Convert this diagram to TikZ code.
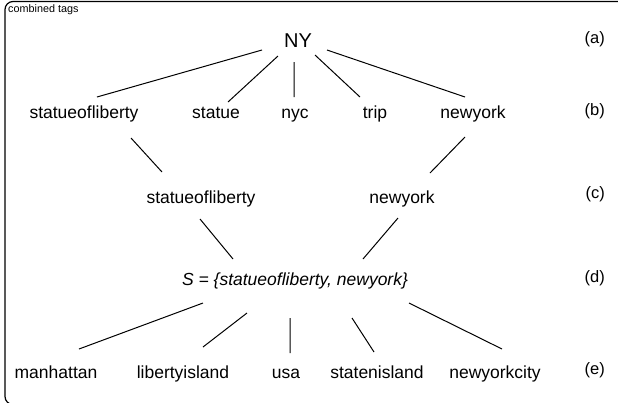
\documentclass[tikz,border=0pt]{standalone}
\usepackage{fontspec}
\setmainfont{Liberation Sans}

\begin{document}
\begin{tikzpicture}[x=1bp, y=-1bp,
		tag/.style={font=\fontsize{17.5bp}{21bp}\selectfont, inner sep=0pt, anchor=base},
		level/.style={font=\fontsize{16.5bp}{20bp}\selectfont, inner sep=0pt, anchor=base east},
		link/.style={black, line width=1bp}]
	\useasboundingbox (0, 0) rectangle (618, 402);

	\begin{scope}
		\clip (0, 0) rectangle (618, 402);
		\draw[line width=1.2bp, rounded corners=8bp] (5, 1.5) rectangle (650, 404.5);
	\end{scope}
	\node[font=\fontsize{10.8bp}{12bp}\selectfont, inner sep=0pt, anchor=base west] (title) at (8, 12.5) {combined tags};

	\node[tag, font=\fontsize{20bp}{24bp}\selectfont] (NY) at (298, 47) {NY};

	\node[tag] (b1) at (84, 118) {statueofliberty};
	\node[tag] (b2) at (216, 118) {statue};
	\node[tag] (b3) at (295, 118) {nyc};
	\node[tag] (b4) at (375, 118) {trip};
	\node[tag] (b5) at (473, 118) {newyork};

	\node[tag] (c1) at (201, 203) {statueofliberty};
	\node[tag] (c2) at (402, 203) {newyork};

	\node[tag, font=\fontsize{17.5bp}{21bp}\selectfont\itshape] (S) at (295, 285) {S = \{statueofliberty, newyork\}};

	\node[tag] (e1) at (56, 378) {manhattan};
	\node[tag] (e2) at (183, 378) {libertyisland};
	\node[tag] (e3) at (286, 378) {usa};
	\node[tag] (e4) at (377, 378) {statenisland};
	\node[tag] (e5) at (495, 378) {newyorkcity};

	\node[level] (la) at (605, 43) {(a)};
	\node[level] (lb) at (605, 115) {(b)};
	\node[level] (lc) at (605, 198) {(c)};
	\node[level] (ld) at (605, 282) {(d)};
	\node[level] (le) at (605, 374) {(e)};

	\draw[link]		([shift={(-36, 3)}]NY.base) -- ([shift={(13, -21)}]b1.base)
					([shift={(-20, 9)}]NY.base) -- ([shift={(12, -16)}]b2.base)
					([shift={(-4, 15)}]NY.base) -- ([shift={(-1, -21)}]b3.base)
					([shift={(17, 8)}]NY.base) -- ([shift={(-15, -21)}]b4.base)
					([shift={(29, 3)}]NY.base) -- ([shift={(-8, -21)}]b5.base);

	\draw[link]		([shift={(47, 20)}]b1.base) -- ([shift={(-39, -31)}]c1.base)
					([shift={(-8, 19)}]b5.base) -- ([shift={(28, -30)}]c2.base);

	\draw[link]		([shift={(-1, 16)}]c1.base) -- ([shift={(-62, -26)}]S.base)
					([shift={(-4, 15)}]c2.base) -- ([shift={(68, -26)}]S.base);

	\draw[link]		([shift={(-92, 18)}]S.base) -- ([shift={(23, -29)}]e1.base)
					([shift={(-48, 28)}]S.base) -- ([shift={(20, -31)}]e2.base)
					([shift={(-5, 33)}]S.base) -- ([shift={(4, -25)}]e3.base)
					([shift={(57, 33)}]S.base) -- ([shift={(-3, -26)}]e4.base)
					([shift={(114, 18)}]S.base) -- ([shift={(7, -29)}]e5.base);
\end{tikzpicture}
\end{document}
